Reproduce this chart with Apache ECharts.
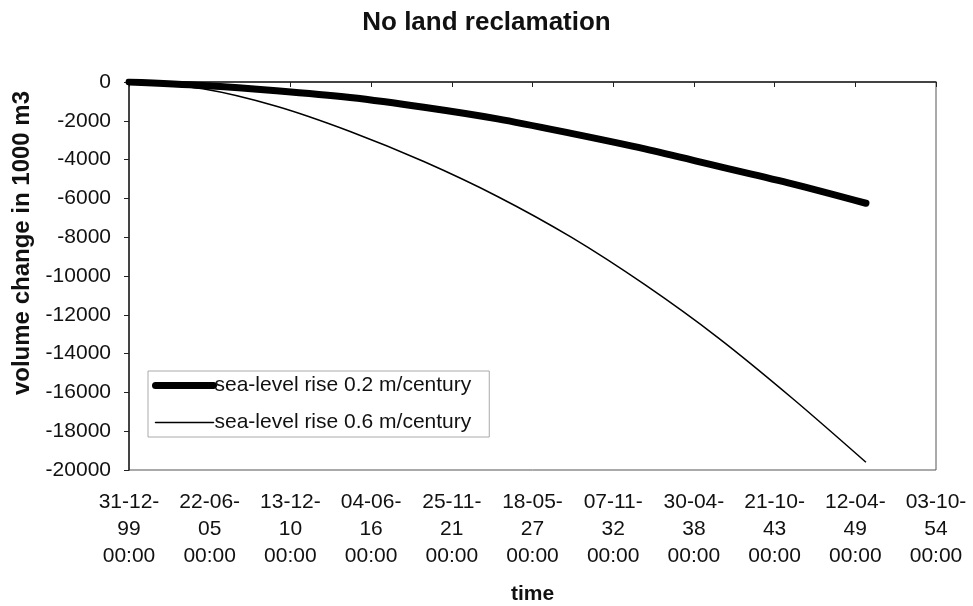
<!DOCTYPE html>
<html>
<head>
<meta charset="utf-8">
<script src="https://cdn.jsdelivr.net/npm/echarts@6/dist/echarts.min.js"></script>
<style>html,body{margin:0;padding:0;background:#fff}#c{width:973px;height:606px}</style>
</head>
<body>
<div id="c"></div>
<script>
// ---- data ----
const startDate = '1999-12-31';
const dates = ['2000-01-01','2005-01-01','2010-01-01','2015-01-01','2020-01-01','2025-01-01','2030-01-01','2035-01-01','2040-01-01','2045-01-01','2050-01-01'];
const rise02 = [0, -180, -450, -800, -1300, -1900, -2650, -3450, -4350, -5250, -6250];
const rise06 = [0, -350, -1250, -2550, -4100, -5900, -8000, -10450, -13200, -16300, -19600];
const seriesNames = ['sea-level rise 0.2 m/century', 'sea-level rise 0.6 m/century'];
const xTickLabels = ['31-12-\n99\n00:00','22-06-\n05\n00:00','13-12-\n10\n00:00','04-06-\n16\n00:00','25-11-\n21\n00:00','18-05-\n27\n00:00','07-11-\n32\n00:00','30-04-\n38\n00:00','21-10-\n43\n00:00','12-04-\n49\n00:00','03-10-\n54\n00:00'];
const yTicks = [0,-2000,-4000,-6000,-8000,-10000,-12000,-14000,-16000,-18000,-20000];

// ---- build ----
const dayMs = 86400000;
const t0 = Date.parse(startDate + 'T00:00:00Z');
const days = dates.map(d => Math.round((Date.parse(d + 'T00:00:00Z') - t0) / dayMs));
const pairs = vals => days.map((d, i) => [d, vals[i]]);
const FONT = '"Liberation Sans", Arial, sans-serif';
const TXT = '#111';
const lineWidths = [7, 1.5];

const chart = echarts.init(document.getElementById('c'), null, {renderer: 'canvas'});
chart.setOption({
  animation: false,
  backgroundColor: '#fff',
  title: {
    text: 'No land reclamation',
    left: 'center', top: 5,
    textStyle: {fontFamily: FONT, fontSize: 26, fontWeight: 'bold', color: TXT}
  },
  legend: {
    orient: 'vertical',
    left: 148, top: 371,
    padding: [4, 18, 4, 4],
    itemWidth: 58, itemHeight: 14, itemGap: 16,
    borderColor: '#aaa', borderWidth: 1,
    backgroundColor: '#fff',
    itemStyle: {opacity: 0, borderWidth: 0},
    textStyle: {fontFamily: FONT, fontSize: 21, color: TXT, padding: [0, 0, 0, -4]},
    data: seriesNames.map((n, i) => ({name: n, lineStyle: {width: lineWidths[i], color: '#000', cap: 'round'}}))
  },
  grid: {left: 129, right: 37, top: 82, bottom: 136, show: true, borderColor: '#555', borderWidth: 1,
         containLabel: false, outerBoundsMode: 'none'},
  xAxis: {
    type: 'value', min: 0, max: 20000, interval: 2000,
    name: 'time', nameLocation: 'middle', nameGap: 114,
    nameTextStyle: {fontFamily: FONT, fontSize: 21, fontWeight: 'bold', color: TXT},
    axisLine: {lineStyle: {color: '#222', width: 1.5}},
    axisTick: {inside: false, length: 5, lineStyle: {color: '#222'}},
    splitLine: {show: false},
    axisLabel: {
      fontFamily: FONT, fontSize: 21, color: TXT, lineHeight: 27, margin: 19,
      formatter: v => xTickLabels[Math.round(v / 2000)] || ''
    }
  },
  yAxis: {
    type: 'value', min: yTicks[yTicks.length - 1], max: yTicks[0], interval: 2000,
    name: 'volume change in 1000 m3', nameLocation: 'middle', nameGap: 95,
    nameTextStyle: {fontFamily: FONT, fontSize: 24, fontWeight: 'bold', color: TXT, padding: [0, 0, 0, 66]},
    axisLine: {show: true, lineStyle: {color: '#222', width: 1.5}},
    axisTick: {show: true, length: 5, lineStyle: {color: '#222'}},
    splitLine: {show: false},
    axisLabel: {fontFamily: FONT, fontSize: 21, color: TXT, margin: 18, formatter: v => String(v)}
  },
  series: [
    {
      name: seriesNames[0], type: 'line', data: pairs(rise02), smooth: 0.3,
      symbol: 'none', color: '#000',
      lineStyle: {color: '#000', width: lineWidths[0], cap: 'round', join: 'round'}
    },
    {
      name: seriesNames[1], type: 'line', data: pairs(rise06), smooth: 0.3,
      symbol: 'none', color: '#000',
      lineStyle: {color: '#000', width: lineWidths[1]}
    }
  ]
});
</script>
</body>
</html>
